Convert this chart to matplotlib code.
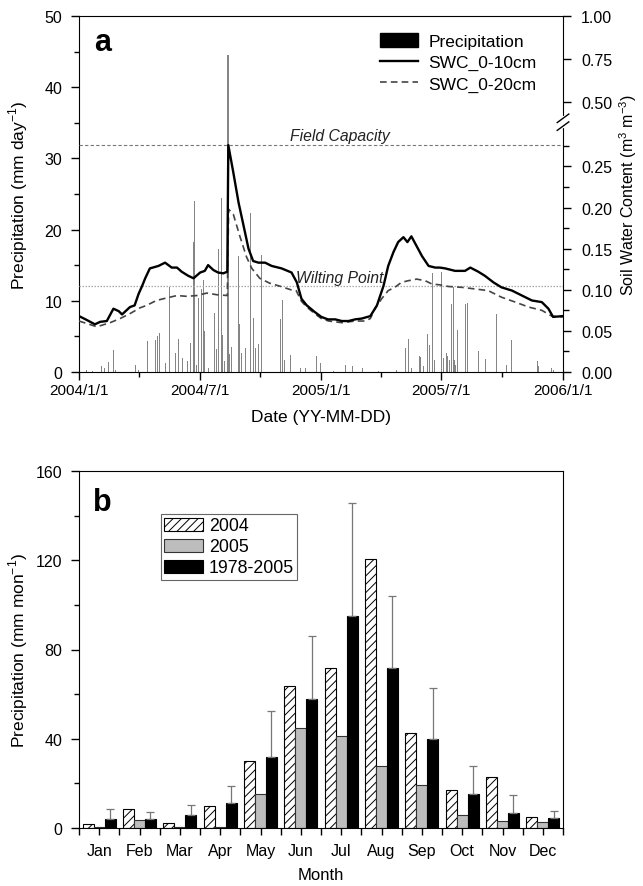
import matplotlib
matplotlib.use('Agg')
import numpy as np
import matplotlib.pyplot as plt
from matplotlib.patches import Patch
from matplotlib.lines import Line2D
from matplotlib.ticker import FixedLocator, FixedFormatter, MultipleLocator

plt.rcParams['font.family'] = ['Liberation Sans', 'DejaVu Sans']
plt.rcParams['mathtext.fontset'] = 'custom'
plt.rcParams['mathtext.rm'] = 'Liberation Sans'
plt.rcParams['hatch.linewidth'] = 0.7

# ---- panel a data (x = days since 2004/1/1) ----
swc10_day = [0, 10, 24, 32, 42, 52, 60, 65, 77, 84, 90, 95, 100, 107, 120, 130, 140, 148,
             155, 165, 173, 183, 190, 195, 203, 210, 218, 224, 225.5, 233, 241, 248, 256,
             263, 271, 281, 291, 306, 321, 329, 336, 344, 356, 366, 376, 387, 397, 407, 417,
             427, 440, 450, 460, 467, 475, 482, 490, 496, 502, 510, 518, 528, 538, 545, 553,
             568, 583, 591, 603, 613, 626, 638, 654, 669, 684, 699, 709, 716, 731]
swc10 = [0.068, 0.064, 0.058, 0.061, 0.062, 0.077, 0.074, 0.070, 0.079, 0.081, 0.095, 0.104,
         0.114, 0.126, 0.129, 0.133, 0.127, 0.127, 0.122, 0.117, 0.114, 0.121, 0.123, 0.130,
         0.124, 0.121, 0.120, 0.122, 0.276, 0.243, 0.206, 0.180, 0.150, 0.135, 0.133, 0.133,
         0.129, 0.126, 0.121, 0.109, 0.089, 0.081, 0.073, 0.067, 0.064, 0.064, 0.062, 0.062,
         0.064, 0.065, 0.068, 0.081, 0.105, 0.129, 0.146, 0.158, 0.164, 0.158, 0.165, 0.153,
         0.141, 0.129, 0.127, 0.127, 0.126, 0.123, 0.123, 0.127, 0.122, 0.117, 0.109, 0.103,
         0.099, 0.093, 0.087, 0.085, 0.077, 0.067, 0.068]

swc20_day = [0, 27, 47, 62, 77, 92, 102, 117, 132, 148, 163, 178, 193, 208, 224, 226, 233,
             243, 253, 261, 273, 288, 305, 320, 328, 336, 344, 356, 366, 377, 397, 417, 432,
             440, 447, 457, 467, 477, 487, 497, 510, 523, 533, 545, 558, 578, 598, 618, 638,
             659, 679, 699, 714, 731]
swc20 = [0.062, 0.055, 0.060, 0.065, 0.071, 0.078, 0.081, 0.087, 0.090, 0.093, 0.092, 0.093,
         0.096, 0.094, 0.093, 0.198, 0.192, 0.165, 0.140, 0.126, 0.114, 0.108, 0.104, 0.100,
         0.099, 0.086, 0.079, 0.071, 0.065, 0.062, 0.060, 0.062, 0.062, 0.065, 0.077, 0.089,
         0.099, 0.103, 0.109, 0.111, 0.113, 0.111, 0.107, 0.106, 0.104, 0.103, 0.101, 0.099,
         0.091, 0.085, 0.079, 0.075, 0.068, 0.067]

rain_day = [12, 20, 34, 38, 44, 52, 55, 85, 90, 104, 116, 118, 122, 131, 137, 146, 150, 157,
            164, 169, 173, 175, 177, 181, 185, 188, 189, 195, 204, 208, 211, 215, 217, 220,
            225, 228, 231, 241, 242, 245, 252, 259, 264, 267, 271, 275, 304, 308, 310, 320,
            334, 342, 358, 365,
            385, 402, 413, 428, 452, 480, 493, 497, 502, 514, 516, 520, 526, 530, 534, 537,
            548, 550, 555, 557, 560, 562, 565, 567, 569, 572, 584, 587, 603, 614, 631, 645,
            653, 692, 694, 713, 716]
rain = [0.3, 0.2, 0.8, 0.5, 1.4, 3.1, 0.3, 1.0, 0.3, 4.4, 4.5, 5.0, 5.45, 1.2, 12.0, 2.7, 4.6,
        1.9, 1.5, 4.1, 18.3, 24.0, 1.0, 10.35, 11.6, 12.9, 5.8, 0.6, 8.3, 3.2, 17.3, 24.4,
        5.2, 1.5, 44.5, 2.5, 3.5, 16.3, 6.8, 2.7, 3.4, 22.4, 7.6, 3.4, 4.0, 16.5, 7.5, 10.1,
        1.7, 2.4, 0.6, 0.5, 2.3, 1.2,
        0.2, 1.0, 0.8, 0.6, 0.1, 0.3, 3.4, 4.7, 0.6, 2.2, 2.1, 0.8, 5.3, 3.8, 13.9, 1.7,
        14.1, 2.0, 2.6, 2.2, 1.7, 9.55, 12.0, 1.7, 1.0, 5.9, 9.5, 9.75, 3.0, 1.8, 8.1, 1.0,
        4.5, 1.6, 0.8, 0.5, 0.3]

field_capacity = 0.276
wilting_point = 0.104

date_ticks = [0, 182, 366, 547, 731]
date_labels = ['2004/1/1', '2004/7/1', '2005/1/1', '2005/7/1', '2006/1/1']
quarter_ticks = [91, 274, 456, 639]

# right axis: 0-0.30 linear, then broken, 0.40-1.00 compressed
swc_lower_ticks = [0.00, 0.05, 0.10, 0.15, 0.20, 0.25]
swc_upper_ticks = [0.50, 0.75, 1.00]

# ---- panel b data ----
months = ['Jan', 'Feb', 'Mar', 'Apr', 'May', 'Jun', 'Jul', 'Aug', 'Sep', 'Oct', 'Nov', 'Dec']
p2004 = [1.8, 8.4, 2.2, 9.9, 30.2, 63.5, 71.7, 120.6, 42.7, 16.9, 23.0, 5.1]
p2005 = [0.5, 3.6, 0.3, 0.3, 15.1, 44.7, 41.3, 27.9, 19.1, 5.7, 3.3, 2.8]
p_mean = [4.0, 3.9, 5.7, 11.2, 31.8, 57.8, 94.9, 71.6, 39.8, 15.4, 6.9, 4.5]
p_sd = [4.7, 3.1, 4.6, 7.8, 20.7, 28.2, 50.7, 32.3, 23.1, 12.5, 7.9, 3.1]

tick_size = 11.5
label_size = 12.5

fig = plt.figure(figsize=(6.43, 8.87), dpi=100)

# ================= panel a =================
ax = fig.add_axes([79/643, 1-373/887, 484/643, 356/887])
ax2 = ax.twinx()

ax.bar(rain_day, rain, width=1.6, color='#858585', edgecolor='none', zorder=1)
ax.set_xlim(0, 731)
ax.set_ylim(0, 50)
ax.set_xticks(date_ticks)
ax.set_xticklabels(date_labels)
ax.set_xticks(quarter_ticks, minor=True)
ax.yaxis.set_major_locator(MultipleLocator(10))
ax.yaxis.set_minor_locator(MultipleLocator(5))
ax.tick_params(axis='both', which='major', direction='out', length=6, width=1,
               labelsize=tick_size)
ax.tick_params(axis='y', which='major', pad=6)
ax.tick_params(axis='x', which='major', pad=2, labelsize=11)
ax.tick_params(axis='both', which='minor', direction='out', length=3.5, width=1)
ax.tick_params(top=False, right=False)
ax.spines['right'].set_visible(False)
ax.set_ylabel('Precipitation (mm day$^{-1}$)', fontsize=label_size)
ax.yaxis.set_label_coords(-0.102, 0.5)
ax.set_xlabel('Date (YY-MM-DD)', fontsize=label_size)
ax.xaxis.set_label_coords(0.5, -0.103)

swc_top = 0.433
brk_lo = 0.300
brk_hi = 0.3076


def upper_pos(v):
    return brk_hi + (v - 0.4) * (swc_top - brk_hi) / 0.6


ax2.plot(swc20_day, swc20, color='#444444', lw=1.2, ls=(0, (4, 2.5)), zorder=3)
ax2.plot(swc10_day, swc10, color='black', lw=1.7, zorder=4)
ax2.axhline(field_capacity, color='#777777', lw=0.8, ls=(0, (3, 2)), zorder=2)
ax2.axhline(wilting_point, color='#aaaaaa', lw=0.9, ls=(0, (1.2, 1.2)), zorder=2)
ax2.set_ylim(0, swc_top)
ax2.set_xlim(0, 731)
tick_pos = swc_lower_ticks + [upper_pos(v) for v in swc_upper_ticks]
tick_lab = ['%.2f' % v for v in swc_lower_ticks + swc_upper_ticks]
ax2.yaxis.set_major_locator(FixedLocator(tick_pos))
ax2.yaxis.set_major_formatter(FixedFormatter(tick_lab))
ax2.yaxis.set_minor_locator(FixedLocator(list(np.arange(0.025, 0.28, 0.05))))
ax2.tick_params(axis='y', which='major', direction='out', length=6, width=1,
                labelsize=tick_size, pad=7)
ax2.tick_params(axis='y', which='minor', direction='out', length=4, width=1)
for s in ['left', 'top', 'bottom']:
    ax2.spines[s].set_visible(False)
ax2.set_ylabel('Soil Water Content (m$^3$ m$^{-3}$)', fontsize=11.5)
ax2.yaxis.set_label_coords(1.113, 0.5)

# axis break marks
yb = (brk_lo + brk_hi) / 2 / swc_top
ax2.plot([1, 1], [yb - 0.012, yb + 0.012], transform=ax2.transAxes, color='white',
         lw=3, clip_on=False, zorder=10)
for dy in (-0.011, 0.011):
    ax2.plot([0.988, 1.012], [yb + dy - 0.012, yb + dy + 0.012], transform=ax2.transAxes,
             color='black', lw=1, clip_on=False, zorder=11)

ax.text(394, 32.6, 'Field Capacity', style='italic', fontsize=11.3, ha='center',
        va='baseline', color='#222222')
ax.text(394, 12.7, 'Wilting Point', style='italic', fontsize=11.3, ha='center',
        va='baseline', color='#222222')
ax.text(0.031, 0.904, 'a', transform=ax.transAxes, fontsize=22, fontweight='bold',
        va='baseline')

handles = [Patch(facecolor='black', edgecolor='black'),
           Line2D([], [], color='black', lw=1.7),
           Line2D([], [], color='#444444', lw=1.2, ls=(0, (4, 2.5)))]
ax2.legend(handles, ['Precipitation', 'SWC_0-10cm', 'SWC_0-20cm'], loc='upper left',
           bbox_to_anchor=(0.621, 0.952), frameon=False, fontsize=12.5, handlelength=2.2,
           handleheight=0.9, handletextpad=0.6, labelspacing=0.28, borderpad=0,
           borderaxespad=0)

# ================= panel b =================
bx = fig.add_axes([79/643, 1-829/887, 484/643, 357/887])
x = np.arange(len(months))
w = 0.27
bx.bar(x - w, p2004, width=w, facecolor='white', edgecolor='black', hatch='////',
       lw=0.8, label='2004')
bx.bar(x, p2005, width=w, facecolor='#bdbdbd', edgecolor='#333333', lw=0.8, label='2005')
bx.bar(x + w, p_mean, width=w, facecolor='black', edgecolor='black', lw=0.8,
       label='1978-2005')
bx.errorbar(x + w, p_mean, yerr=[np.zeros(len(p_sd)), p_sd], fmt='none', ecolor='#777777',
            elinewidth=0.9, capsize=3, capthick=0.9)
bx.set_xlim(-0.5, 11.5)
bx.set_ylim(0, 160)
bx.set_xticks(x)
bx.set_xticklabels(months)
bx.set_xticks(np.arange(-0.5, 12, 1), minor=True)
bx.yaxis.set_major_locator(MultipleLocator(40))
bx.yaxis.set_minor_locator(MultipleLocator(20))
bx.tick_params(axis='both', which='major', direction='out', length=6, width=1,
               labelsize=tick_size)
bx.tick_params(axis='y', which='major', pad=6)
bx.tick_params(axis='x', which='major', length=5, pad=6)
bx.tick_params(axis='x', which='minor', direction='out', length=5, width=1)
bx.tick_params(axis='y', which='minor', direction='out', length=3.5, width=1)
bx.set_ylabel('Precipitation (mm mon$^{-1}$)', fontsize=label_size)
bx.yaxis.set_label_coords(-0.102, 0.5)
bx.set_xlabel('Month', fontsize=12)
bx.xaxis.set_label_coords(0.5, -0.11)
bx.text(0.029, 0.891, 'b', transform=bx.transAxes, fontsize=22, fontweight='bold',
        va='baseline')
leg = bx.legend(loc='upper left', bbox_to_anchor=(0.169, 0.88), fontsize=12.8,
                handlelength=2.2, handleheight=0.75, handletextpad=0.3, labelspacing=0.22,
                borderpad=0.2, borderaxespad=0, fancybox=False, framealpha=1,
                edgecolor='#666666')
leg.get_frame().set_linewidth(0.8)

fig.savefig('out.png', dpi=100)
